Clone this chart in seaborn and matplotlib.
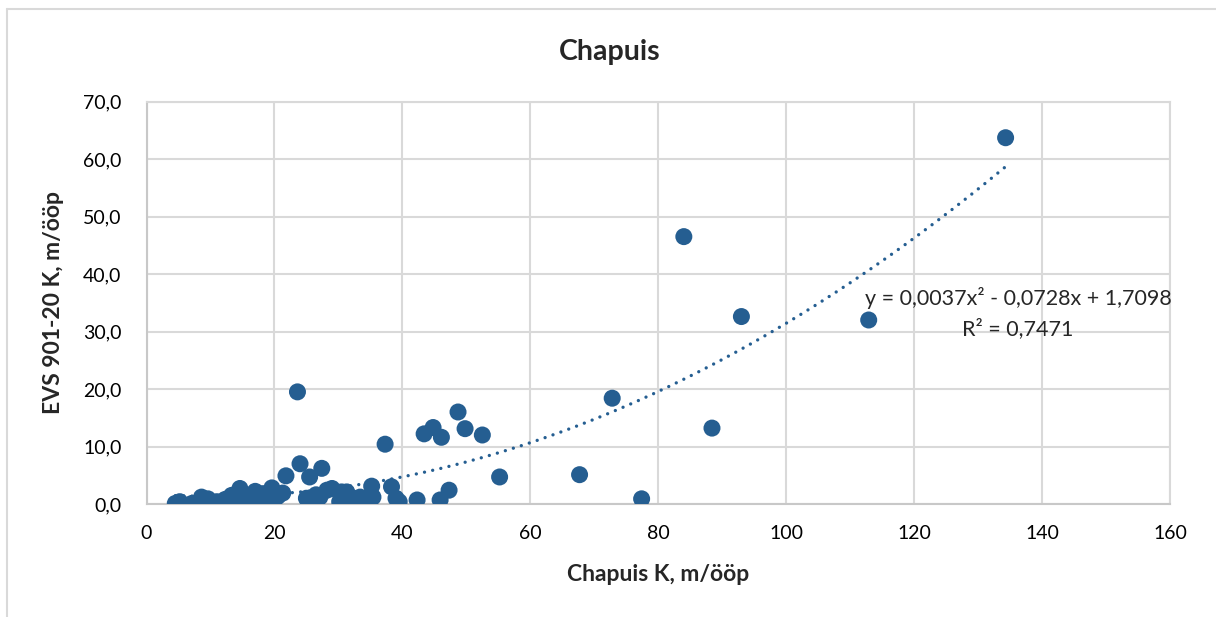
import numpy as np
import pandas as pd
import matplotlib
matplotlib.use("Agg")
import matplotlib.pyplot as plt
import seaborn as sns
from matplotlib.lines import Line2D
from matplotlib.ticker import FuncFormatter

# Chapuis K vs EVS 901-20 K (m/ööp)
chapuis_k = [4.5, 5.2, 7.1, 8.6, 9.6, 11.0, 12.3, 13.3, 13.5, 14.6, 15.4, 16.2,
             17.0, 17.2, 18.2, 18.5, 19.6, 19.8, 20.5, 21.3, 21.8, 23.6, 24.0,
             25.0, 25.5, 25.8, 26.5, 27.1, 27.4, 28.2, 29.0, 30.2, 30.5, 31.3,
             31.8, 32.3, 33.4, 34.1, 35.2, 35.4, 37.3, 38.3, 39.0, 39.5, 42.3,
             43.4, 44.8, 45.9, 46.1, 47.3, 48.7, 49.8, 52.5, 55.2, 67.7, 72.8,
             77.4, 84.0, 88.4, 93.0, 112.9, 134.3]
evs_k = [0.1, 0.4, 0.1, 1.2, 0.9, 0.4, 0.8, 1.5, 0.3, 2.7, 1.2, 0.4,
         2.2, 1.0, 1.8, 0.7, 2.8, 0.4, 1.3, 1.9, 4.9, 19.5, 7.0,
         1.0, 4.7, 0.4, 1.6, 1.2, 6.2, 2.4, 2.7, 0.4, 2.1, 2.1,
         1.2, 1.0, 1.2, 0.3, 3.1, 1.2, 10.4, 3.0, 1.0, 0.4, 0.7,
         12.2, 13.3, 0.7, 11.6, 2.4, 16.0, 13.1, 12.0, 4.7, 5.1, 18.4,
         0.9, 46.5, 13.2, 32.6, 32.0, 63.7]

# Polynomial trendline (order 2) coefficients: a*x^2 + b*x + c
trend_coef = [0.0037, -0.0728, 1.7098]
r_squared = 0.7471

x_ticks = [0, 20, 40, 60, 80, 100, 120, 140, 160]
y_ticks = [0, 10, 20, 30, 40, 50, 60, 70]

df = pd.DataFrame({"x": chapuis_k, "y": evs_k})

sns.set_theme(style="white")
plt.rcParams["font.family"] = ["Lato", "DejaVu Sans"]

BLUE = "#255E91"
GRID = "#D9D9D9"

fig = plt.figure(figsize=(12.16, 6.17), dpi=100)
ax = fig.add_axes([146.5 / 1216, 1 - 504 / 617, (1170 - 146.5) / 1216, (504 - 101.5) / 617])

sns.scatterplot(data=df, x="x", y="y", ax=ax, color=BLUE, s=150,
                edgecolor="none", linewidth=0, zorder=3)

xf = np.linspace(min(chapuis_k), max(chapuis_k), 300)
yf = np.polyval(trend_coef, xf)
ax.plot(xf, yf, color=BLUE, linestyle=(0, (0.01, 2.5)), linewidth=2.4,
        dash_capstyle="round", zorder=4)

ax.set_xlim(0, 160)
ax.set_ylim(0, 70)
ax.set_xticks(x_ticks)
ax.set_yticks(y_ticks)
ax.yaxis.set_major_formatter(FuncFormatter(lambda v, p: f"{v:.1f}".replace(".", ",")))
ax.xaxis.set_major_formatter(FuncFormatter(lambda v, p: f"{v:.0f}"))
ax.grid(True, color=GRID, linewidth=1.5)
ax.set_axisbelow(True)
for side in ["left", "bottom", "top", "right"]:
    ax.spines[side].set_visible(True)
    ax.spines[side].set_color(GRID)
    ax.spines[side].set_linewidth(1.5)
ax.spines["bottom"].set_color("#C8C8C8")
ax.spines["left"].set_color("#C8C8C8")
ax.tick_params(axis="both", length=0, labelsize=14, colors="#000000")
ax.tick_params(axis="y", pad=18)
ax.tick_params(axis="x", pad=15)

ax.set_xlabel("Chapuis K, m/ööp", fontsize=16.5, fontweight="bold", labelpad=16)
ax.set_ylabel("EVS 901-20 K, m/ööp", fontsize=16.5, fontweight="bold", labelpad=14)

fig.text(610 / 1216, 1 - 52 / 617, "Chapuis", ha="center", va="center",
         fontsize=20.5, fontweight="bold")

a, b, c = trend_coef
eq = (f"y = {a:.4f}x² - {abs(b):.4f}x + {c:.4f}\nR² = {r_squared:.4f}").replace(".", ",")
ax.text(1018 / 1216, 1 - 313 / 617, eq, transform=fig.transFigure,
        ha="center", va="center", fontsize=15.5, linespacing=1.5)

# outer chart frame
fig.add_artist(Line2D([7 / 1216, 1], [1 - 9 / 617, 1 - 9 / 617],
                      transform=fig.transFigure, color=GRID, linewidth=1.5))
fig.add_artist(Line2D([7 / 1216, 7 / 1216], [0, 1 - 9 / 617],
                      transform=fig.transFigure, color=GRID, linewidth=1.5))

fig.savefig("out.png", dpi=100, facecolor="white")
